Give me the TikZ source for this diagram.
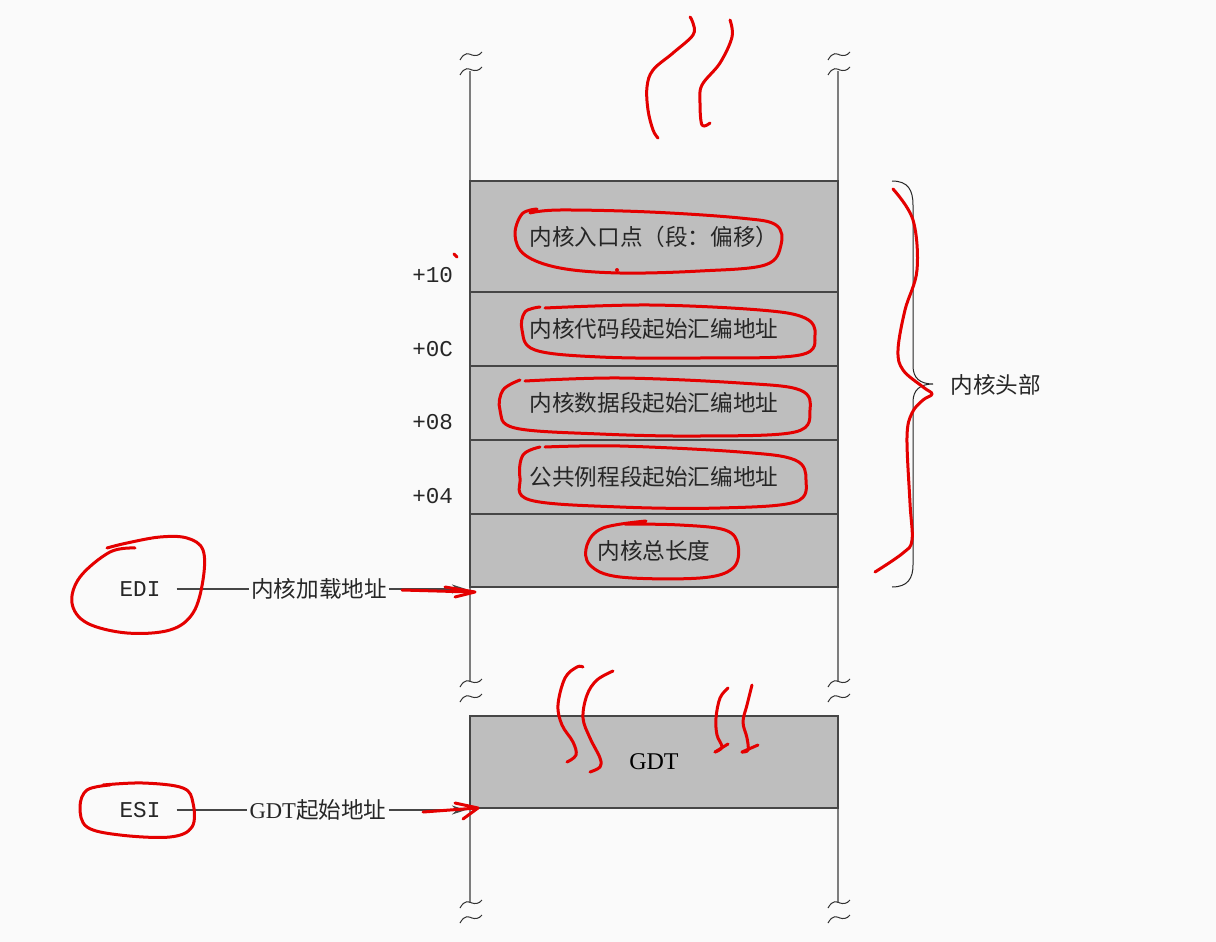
\documentclass[tikz,border=0pt]{standalone}
\usepackage{fontspec}
\setmainfont{Liberation Serif}
\setmonofont{Liberation Mono}
\newfontfamily\cjk{Noto Sans CJK SC}
\usetikzlibrary{arrows.meta}
\definecolor{pagebg}{RGB}{250,250,250}
\definecolor{cellgray}{RGB}{190,190,190}
\definecolor{rulegray}{RGB}{125,125,125}
\definecolor{edgegray}{RGB}{70,70,70}
\definecolor{penred}{RGB}{228,0,0}

\tikzset{
  cell/.style={draw=edgegray, line width=0.6pt, fill=cellgray, minimum width=184pt,
    inner sep=0pt, outer sep=0pt, font=\cjk\fontsize{11.3}{13}\selectfont, text=black!85},
  offset/.style={anchor=east, font=\ttfamily\fontsize{11.3}{13}\selectfont, text=black!85},
  reg/.style={font=\ttfamily\fontsize{11.3}{13}\selectfont, inner sep=8pt, text=black!85},
  ptrlabel/.style={font=\cjk\fontsize{11.3}{13}\selectfont, inner sep=1pt, text=black!85},
  wire/.style={draw=edgegray, line width=0.6pt},
  pen/.style={draw=penred, line width=1.5pt, line cap=round, line join=round},
  brk/.style={draw=black!80, line width=0.5pt}
}

\begin{document}
\begin{tikzpicture}[x=0.5pt, y=-0.5pt]
  \fill[pagebg] (0,0) rectangle (1216,942);
  \useasboundingbox (0,0) rectangle (1216,942);
  % rails and break marks
  \foreach \rx in {470,838} {
    \draw[rulegray, line width=0.8pt] (\rx,71) -- (\rx,682);
    \draw[rulegray, line width=0.8pt] (\rx,808) -- (\rx,903);
    \foreach \ry in {55,70,682,697,903,918}
      \draw[brk] (\rx-10,\ry+5) .. controls (\rx-5,\ry-4) and (\rx-1,\ry-1) .. (\rx+2,\ry)
        .. controls (\rx+5,\ry+1) and (\rx+9,\ry+1) .. (\rx+12,\ry-3);
  }
  % kernel header cells
  \node[cell, minimum height=55.5pt] (entry) at (654,236.5) {内核入口点（段：偏移）};
  \node[cell, minimum height=37pt] (code) at (654,329) {内核代码段起始汇编地址};
  \node[cell, minimum height=37pt] (data) at (654,403) {内核数据段起始汇编地址};
  \node[cell, minimum height=37pt] (rout) at (654,477) {公共例程段起始汇编地址};
  \node[cell, minimum height=36.5pt] (klen) at (654,550.5) {内核总长度};
  \node[cell, minimum height=46pt, text=black, font=\rmfamily\fontsize{12}{14}\selectfont] (gdt) at (654,762) {GDT};
  \node[offset] (o10) at (460,275) {+10};
  \node[offset] (o0c) at (460,349) {+0C};
  \node[offset] (o08) at (460,422) {+08};
  \node[offset] (o04) at (460,496) {+04};
  % brace
  \draw[black!85, line width=0.5pt] (892,181) .. controls (908,181) and (913,190) .. (913,205)
    -- (913,366) .. controls (913,378) and (920,384) .. (933,384)
    .. controls (920,384) and (913,390) .. (913,402)
    -- (913,565) .. controls (913,578) and (908,587) .. (892,587);
  \node[ptrlabel, anchor=west] (hdr) at (948,385) {内核头部};
  % pointers
  \node[reg] (edi) at (140,589) {EDI};
  \node[ptrlabel] (load) at (319,589) {内核加载地址};
  \coordinate (loadat) at (466,589);
  \draw[wire] (edi) -- (load);
  \draw[wire, -{Stealth[length=7pt,width=4.5pt]}] (load) -- (loadat);
  \node[reg] (esi) at (140,810) {ESI};
  \node[ptrlabel] (gdtaddr) at (318,810) {{\rmfamily GDT}起始地址};
  \coordinate (gdtat) at (466,810);
  \draw[wire] (esi) -- (gdtaddr);
  \draw[wire, -{Stealth[length=7pt,width=4.5pt]}] (gdtaddr) -- (gdtat);
  % red pen marks
  \draw[pen] plot[smooth, tension=0.6] coordinates {(690,17) (693,23) (693,35) (673,53) (653,70) (647,87) (648,110) (653,130) (658,138)};
  \draw[pen] plot[smooth, tension=0.6] coordinates {(730,20) (732,37) (720,63) (702,85) (700,103) (702,125) (710,123)};
  \draw[pen] plot[smooth, tension=0.6] coordinates {(537,209) (522,214) (515,235) (525,255) (560,268) (620,273) (700,271) (765,265) (781,245) (776,225) (740,218) (650,212) (560,210) (530,213)};
  \draw[pen] plot[smooth, tension=0.6] coordinates {(540,307) (525,312) (522,330) (535,350) (600,357) (700,358) (800,355) (815,335) (805,318) (760,310) (650,305) (545,308)};
  \draw[pen] plot[smooth, tension=0.6] coordinates {(520,380) (503,390) (500,410) (515,428) (600,434) (700,436) (795,432) (810,410) (800,390) (740,383) (620,378) (525,381)};
  \draw[pen] plot[smooth, tension=0.6] coordinates {(540,447) (523,455) (520,478) (530,500) (620,507) (720,508) (795,502) (806,480) (795,460) (740,452) (620,446) (545,447)};
  \draw[pen] plot[smooth, tension=0.6] coordinates {(646,521) (603,528) (587,545) (590,565) (620,577) (700,578) (733,568) (738,545) (725,530) (680,525) (625,524)};
  \draw[pen] plot[smooth, tension=0.6] coordinates {(893,189) (913,220) (917,270) (905,310) (898,350) (903,370) (923,387) (932,394) (923,400) (912,413) (907,437) (910,503) (912,540) (903,553) (875,572)};
  \draw[pen] plot[smooth, tension=0.6] coordinates {(135,548) (110,552) (80,577) (72,603) (87,623) (127,633) (170,630) (193,613) (203,580) (203,550) (187,538) (160,537) (127,543) (107,548)};
  \draw[pen] plot[smooth, tension=0.6] coordinates {(110,785) (87,790) (80,807) (87,827) (120,835) (170,837) (192,827) (193,803) (183,788) (143,783) (103,785)};
  \draw[pen] (402,590) -- (472,592);
  \draw[pen] (445,587) -- (475,592) -- (455,597);
  \draw[pen] (423,812) -- (477,808);
  \draw[pen] (455,803) -- (478,808) -- (463,819);
  \draw[pen] plot[smooth, tension=0.6] coordinates {(583,667) (577,667) (565,678) (558,705) (562,725) (573,742) (576,755) (567,762)};
  \draw[pen] plot[smooth, tension=0.6] coordinates {(613,671) (597,680) (587,695) (583,718) (590,738) (600,758) (600,767) (590,772)};
  \draw[pen] plot[smooth, tension=0.6] coordinates {(728,688) (720,698) (716,718) (717,735) (722,747) (715,752)};
  \draw[pen] (715,752) -- (728,744);
  \draw[pen] plot[smooth, tension=0.6] coordinates {(752,685) (747,705) (743,722) (747,738) (748,750) (742,752)};
  \draw[pen] (742,752) -- (758,745);
  \draw[pen] (454,254) -- (457,257);
  \fill[penred] (617,270) circle (1pt);
\end{tikzpicture}
\end{document}
